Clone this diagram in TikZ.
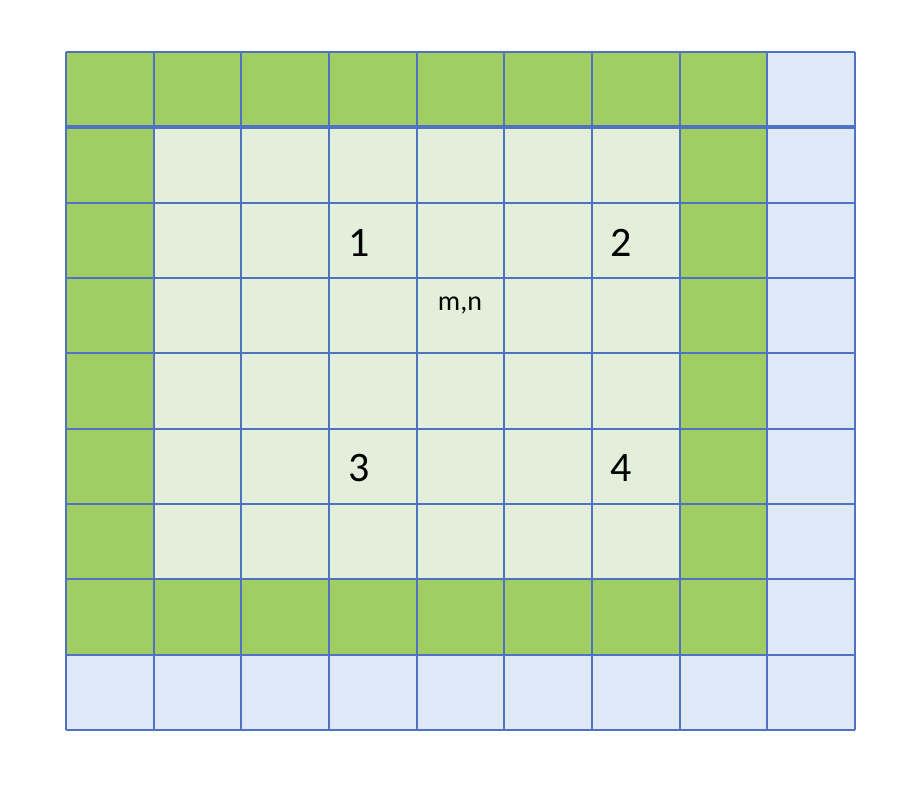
\documentclass[tikz,border=0pt]{standalone}
\usepackage{fontspec}
\setmainfont{Carlito}
\definecolor{gridblue}{HTML}{4F73C2}
\definecolor{darkgreen}{HTML}{A0CE62}
\definecolor{lightgreen}{HTML}{E3EFDA}
\definecolor{lightblue}{HTML}{DFE8F6}
\begin{document}
\begin{tikzpicture}[x=1pt,y=-1pt,
  cellline/.style={draw=gridblue,line width=2.2pt},
  numlabel/.style={font=\fontsize{42}{44}\selectfont,inner sep=0pt},
  smalllabel/.style={font=\fontsize{28}{30}\selectfont,inner sep=0pt}]
\useasboundingbox (0,0) rectangle (922,798);
\def\xo{66}\def\yo{52}\def\cw{87.67}\def\ch{75.33}
% fills
\foreach \i in {0,...,8}{
  \foreach \j in {0,...,8}{
    \pgfmathsetmacro{\code}{ (\i==8 || \j==8) ? 0 : ((\j==0 || \j==7 || \i==0 || \i==7) ? 1 : 2) }
    \ifnum\code=0 \def\fc{lightblue}\fi
    \ifnum\code=1 \def\fc{darkgreen}\fi
    \ifnum\code=2 \def\fc{lightgreen}\fi
    \fill[\fc] ({\xo+\i*\cw},{\yo+\j*\ch}) rectangle ++(\cw,\ch);
  }
}
% grid lines
\foreach \i in {0,...,9}{
  \draw[cellline] ({\xo+\i*\cw},\yo) -- ({\xo+\i*\cw},{\yo+9*\ch});
}
\foreach \j in {0,...,9}{
  \draw[cellline] (\xo,{\yo+\j*\ch}) -- ({\xo+9*\cw},{\yo+\j*\ch});
}
\draw[draw=gridblue,line width=4pt] (\xo,{\yo+\ch}) -- ({\xo+9*\cw},{\yo+\ch});
% labels
\node[numlabel] (n1) at (359,243) {1};
\node[numlabel] (n2) at (621,243) {2};
\node[numlabel] (n3) at (359,468) {3};
\node[numlabel] (n4) at (621,468) {4};
\node[smalllabel] (mn) at (460,305) {m,n};
\end{tikzpicture}
\end{document}
